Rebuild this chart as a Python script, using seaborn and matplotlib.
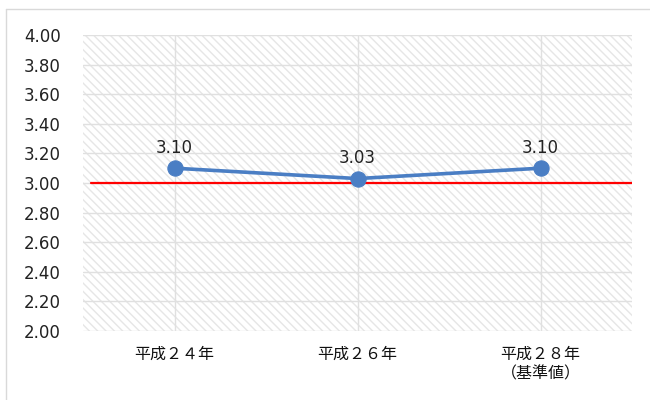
import matplotlib
matplotlib.use("Agg")
import matplotlib.pyplot as plt
import seaborn as sns
import pandas as pd
from matplotlib.patches import Rectangle
from matplotlib.lines import Line2D
from matplotlib.ticker import FormatStrFormatter

categories = ["平成２４年", "平成２６年", "平成２８年\n（基準値）"]
values = [3.10, 3.03, 3.10]
baseline = 3.00
y_ticks = [2.00, 2.20, 2.40, 2.60, 2.80, 3.00, 3.20, 3.40, 3.60, 3.80, 4.00]

sns.set_theme(style="white")
plt.rcParams["font.family"] = ["Noto Sans CJK JP", "DejaVu Sans"]

df = pd.DataFrame({"cat": categories, "val": values})

fig = plt.figure(figsize=(6.5, 4.0), dpi=100)
ax = fig.add_axes([83 / 650, 69 / 400, 549 / 650, 296 / 400])

# hatched plot area
ax.patch.set_visible(False)
bg = Rectangle((0, 0), 1, 1, transform=ax.transAxes, facecolor="white",
               edgecolor="#e6e6e6", hatch="\\\\\\\\", linewidth=0, zorder=0)
ax.add_patch(bg)

sns.lineplot(data=df, x="cat", y="val", ax=ax, color="#4a7ec4", linewidth=2.6,
             marker="o", markersize=11, markeredgecolor="#4a7ec4", zorder=4,
             sort=False)

ax.axhline(baseline, xmin=0.015, xmax=1.0, color="#ff0000", linewidth=1.6, zorder=3)

for i, v in enumerate(values):
    ax.annotate(f"{v:.2f}", (i, v), xytext=(0, 8), textcoords="offset points",
                ha="center", va="bottom", fontsize=12, color="#222222",
                family=["DejaVu Sans"], zorder=5)

ax.set_xlim(-0.5, 2.5)
ax.set_ylim(2.0, 4.0)
ax.set_yticks(y_ticks)
ax.yaxis.set_major_formatter(FormatStrFormatter("%.2f"))
ax.grid(True, color="#e0e0e0", linewidth=1.0, zorder=1)
ax.set_axisbelow(True)
for s in ax.spines.values():
    s.set_visible(False)
ax.set_xlabel("")
ax.set_ylabel("")
ax.tick_params(axis="y", labelsize=12, colors="#222222", pad=16, length=0)
ax.tick_params(axis="x", labelsize=11.5, colors="#111111", pad=11, length=0)
for lbl in ax.get_yticklabels():
    lbl.set_family(["DejaVu Sans"])

# chart border
fig.add_artist(Line2D([6 / 650, 6 / 650], [0, 1 - 9 / 400], transform=fig.transFigure,
                      color="#d9d9d9", linewidth=1))
fig.add_artist(Line2D([6 / 650, 1], [1 - 9 / 400, 1 - 9 / 400], transform=fig.transFigure,
                      color="#d9d9d9", linewidth=1))

fig.savefig("out.png", dpi=100, facecolor="white")
